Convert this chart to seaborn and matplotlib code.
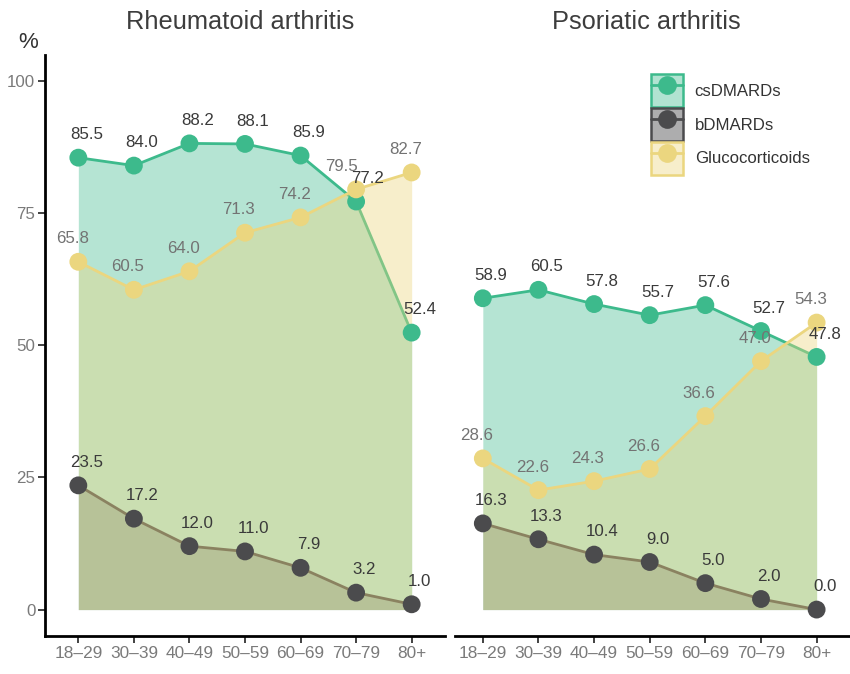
import matplotlib
matplotlib.use("Agg")
import matplotlib.pyplot as plt
from matplotlib.patches import Patch
from matplotlib.lines import Line2D
import seaborn as sns
import numpy as np
import pandas as pd

# ---- data -------------------------------------------------------------
age_groups = ["18\u201329", "30\u201339", "40\u201349", "50\u201359", "60\u201369", "70\u201379", "80+"]
panels = ["Rheumatoid arthritis", "Psoriatic arthritis"]
series = ["csDMARDs", "bDMARDs", "Glucocorticoids"]

ra_cs = [85.5, 84.0, 88.2, 88.1, 85.9, 77.2, 52.4]
ra_bd = [23.5, 17.2, 12.0, 11.0, 7.9, 3.2, 1.0]
ra_gc = [65.8, 60.5, 64.0, 71.3, 74.2, 79.5, 82.7]

psa_cs = [58.9, 60.5, 57.8, 55.7, 57.6, 52.7, 47.8]
psa_bd = [16.3, 13.3, 10.4, 9.0, 5.0, 2.0, 0.0]
psa_gc = [28.6, 22.6, 24.3, 26.6, 36.6, 47.0, 54.3]

y_ticks = [0, 25, 50, 75, 100]

# long table for seaborn
rows = []
for panel, vals in zip(panels, [(ra_cs, ra_bd, ra_gc), (psa_cs, psa_bd, psa_gc)]):
    for s, v in zip(series, vals):
        for i, (g, val) in enumerate(zip(age_groups, v)):
            rows.append({"panel": panel, "series": s, "pos": i, "age": g, "pct": val})
df = pd.DataFrame(rows)

# ---- style ------------------------------------------------------------
sns.set_theme(style="white")
plt.rcParams["font.family"] = ["Liberation Sans", "DejaVu Sans"]

colors = {"csDMARDs": "#3dba8c", "bDMARDs": "#4b4b4d", "Glucocorticoids": "#ebd67f"}
fill_alpha = {"csDMARDs": 0.38, "bDMARDs": 0.30, "Glucocorticoids": 0.40}
label_color = {"csDMARDs": "#3a3a3a", "bDMARDs": "#3a3a3a", "Glucocorticoids": "#737373"}
label_dx = {"csDMARDs": 5.8, "bDMARDs": 5.8, "Glucocorticoids": -4.5}
label_dy = 16.5
clash_gap = 4.0      # csDMARDs/glucocorticoid values closer than this get spread apart
clash_push = {"csDMARDs": 2.5, "Glucocorticoids": -6.0}

W, H = 850, 674
fig = plt.figure(figsize=(W / 100, H / 100), dpi=100)
axes = [
    fig.add_axes([45 / W, 1 - 636 / H, 400 / W, (636 - 54.6) / H]),
    fig.add_axes([455 / W, 1 - 636 / H, 395 / W, (636 - 54.6) / H]),
]
xlims = [(-0.6, 6.6), (-0.5, 6.6)]

for k, (ax, panel) in enumerate(zip(axes, panels)):
    sub = df[df.panel == panel]
    z = 1
    for s in series:
        d = sub[sub.series == s]
        ax.fill_between(d.pos, 0, d.pct, color=colors[s], alpha=fill_alpha[s],
                        linewidth=0, zorder=z)
        sns.lineplot(data=d, x="pos", y="pct", ax=ax, color=colors[s],
                     linewidth=2.0, zorder=z + 1, legend=False)
        z += 2
    for s in series:
        d = sub[sub.series == s]
        sns.scatterplot(data=d, x="pos", y="pct", ax=ax, color=colors[s], s=165,
                        edgecolor="none", linewidth=0, zorder=z, legend=False)
        z += 1

    wide = sub.pivot(index="pos", columns="series", values="pct")
    for s in series:
        d = sub[sub.series == s]
        for x, y in zip(d.pos, d.pct):
            dx = label_dx[s]
            if s in clash_push and abs(wide.loc[x, "csDMARDs"] - wide.loc[x, "Glucocorticoids"]) < clash_gap:
                dx += clash_push[s]
            ax.annotate(f"{y:.1f}", (x, y), xytext=(dx, label_dy),
                        textcoords="offset points", ha="center", va="center",
                        fontsize=12.2, color=label_color[s], zorder=20)

    ax.set_xlim(*xlims[k])
    ax.set_ylim(-5, 105)
    ax.set_xticks(range(len(age_groups)))
    ax.set_xticklabels(age_groups)
    ax.set_xlabel("")
    ax.set_ylabel("")
    for sp in ["top", "right"]:
        ax.spines[sp].set_visible(False)
    ax.spines["bottom"].set_color("black")
    ax.spines["bottom"].set_linewidth(2.0)
    ax.tick_params(axis="x", length=5, width=1.3, color="#333333", pad=2,
                   labelsize=12.4, labelcolor="#7a7a7a", bottom=True)
    if k == 0:
        ax.spines["left"].set_color("black")
        ax.spines["left"].set_linewidth(2.0)
        ax.set_yticks(y_ticks)
        ax.tick_params(axis="y", length=5, width=1.3, color="#333333", pad=2,
                       labelsize=12.2, labelcolor="#7a7a7a", left=True)
    else:
        ax.spines["left"].set_visible(False)
        ax.set_yticks(y_ticks)
        ax.tick_params(axis="y", left=False, labelleft=False)
    ax.grid(False)

# panel titles and unit
fig.text(240 / W, 1 - 22 / H, panels[0], ha="center", va="center",
         fontsize=18.3, color="#3d3d3d")
fig.text(646 / W, 1 - 22 / H, panels[1], ha="center", va="center",
         fontsize=18.3, color="#3d3d3d")
fig.text(28 / W, 1 - 42 / H, "%", ha="center", va="center", fontsize=16, color="#333333")

# legend: filled key with line and point
handles = []
for s in series:
    patch = Patch(facecolor=matplotlib.colors.to_rgba(colors[s], 0.4 if s != "bDMARDs" else 0.45),
                  edgecolor=colors[s], linewidth=1.8)
    line = Line2D([0], [0], color=colors[s], linewidth=2.0, marker="o",
                  markersize=13.5, markeredgewidth=0)
    handles.append((patch, line))
axes[1].legend(handles, series, loc="upper left",
               bbox_to_anchor=(651 / W, 1 - 74 / H), bbox_transform=fig.transFigure,
               frameon=False, fontsize=12.1, labelcolor="#333333",
               handlelength=1.9, handleheight=2.64, labelspacing=0.06,
               handletextpad=0.7, borderpad=0, borderaxespad=0)

fig.savefig("out.png", dpi=100, facecolor="white")
